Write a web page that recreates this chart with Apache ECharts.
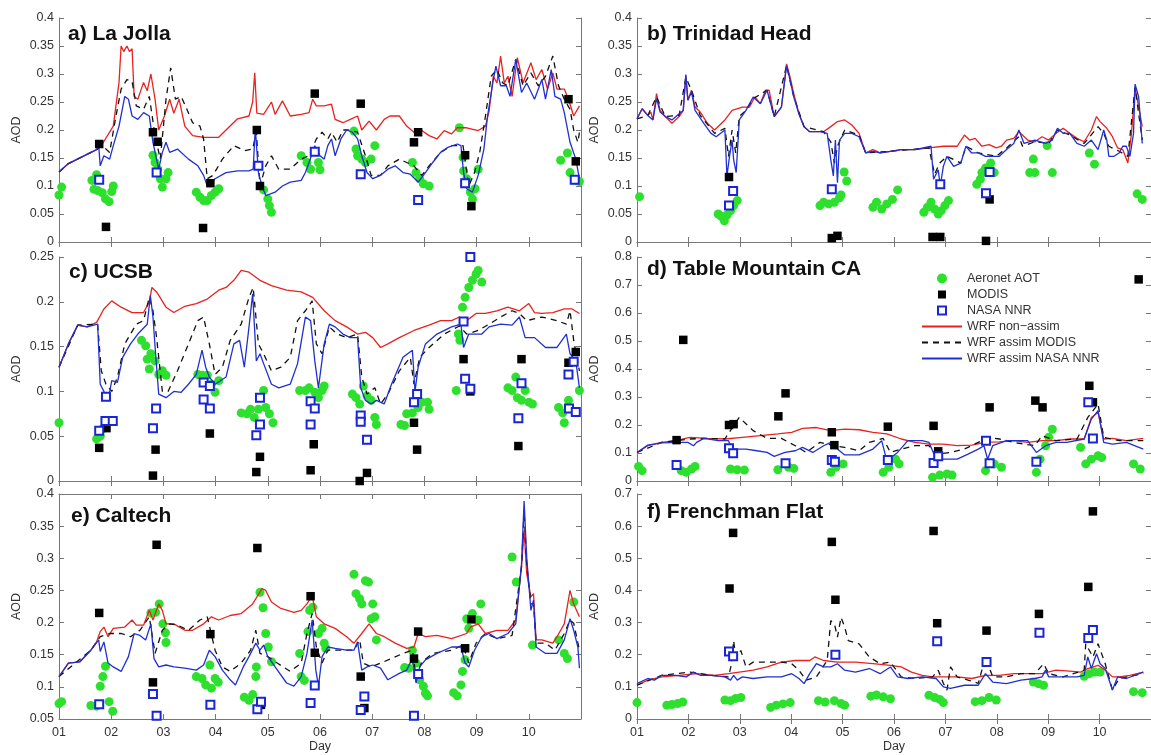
<!DOCTYPE html>
<html>
<head>
<meta charset="utf-8">
<title>AOD comparison</title>
<script src="https://cdn.jsdelivr.net/npm/echarts@6/dist/echarts.min.js"></script>
<style>
  html, body { margin: 0; padding: 0; background: #fff; }
  #chart { width: 1151px; height: 755px; }
</style>
</head>
<body>
<div id="chart"></div>
<script>
// values, every point is [day, AOD]

// a) La Jolla
const aAero = [[1.00,0.084],[1.05,0.098],[1.63,0.11],[1.72,0.12],[1.67,0.094],[1.74,0.092],[1.83,0.088],[1.89,0.077],[1.96,0.072],[2.01,0.09],[2.04,0.1],
  [2.80,0.155],[2.84,0.142],[2.89,0.13],[2.94,0.113],[2.98,0.098],[3.05,0.113],[3.09,0.124],
  [3.63,0.089],[3.70,0.08],[3.77,0.074],[3.84,0.074],[3.92,0.083],[3.99,0.089],[4.06,0.095],
  [4.92,0.093],[5.00,0.077],[5.03,0.065],[5.07,0.053],
  [5.64,0.154],[5.75,0.142],[5.82,0.13],[5.97,0.142],[6.00,0.129],
  [6.65,0.198],[6.69,0.166],[6.72,0.154],[6.80,0.148],[6.87,0.142],[6.98,0.148],[7.05,0.172],
  [7.77,0.142],[7.84,0.124],[7.91,0.113],[7.98,0.104],[8.09,0.1],
  [8.67,0.204],[8.74,0.151],[8.75,0.127],[8.81,0.113],[8.88,0.089],[8.92,0.077],[8.97,0.095],[9.03,0.13],
  [10.61,0.146],[10.74,0.159],[10.79,0.124],[10.90,0.11],[10.97,0.108]]
const aModis = [[1.77,0.175],[1.90,0.027],[2.80,0.196],[2.89,0.179],[3.76,0.025],[3.90,0.105],[4.79,0.2],[4.85,0.1],[5.90,0.265],[6.78,0.247],[7.80,0.178],[7.88,0.196],[8.78,0.155],[8.90,0.064],[10.76,0.255],[10.90,0.144]]
const aNnr = [[1.77,0.111],[2.87,0.124],[4.82,0.136],[5.90,0.161],[6.78,0.121],[7.88,0.075],[8.78,0.105],[10.88,0.111]]
const aRed = [[1.00,0.125],[1.18,0.14],[1.72,0.165],[1.83,0.175],[2.04,0.207],[2.15,0.285],[2.19,0.35],[2.24,0.34],[2.30,0.35],[2.35,0.34],[2.40,0.345],[2.44,0.26],[2.51,0.255],[2.62,0.285],[2.69,0.27],[2.76,0.30],[2.84,0.255],[2.91,0.2],[3.02,0.225],[3.12,0.255],[3.20,0.23],[3.30,0.255],[3.41,0.207],[3.56,0.19],[3.77,0.187],[4.06,0.187],[4.20,0.2],[4.42,0.22],[4.64,0.225],[4.71,0.25],[4.75,0.302],[4.79,0.23],[4.92,0.228],[5.07,0.25],[5.14,0.228],[5.28,0.252],[5.43,0.225],[5.64,0.228],[5.79,0.231],[5.86,0.255],[5.93,0.243],[6.08,0.243],[6.22,0.246],[6.29,0.219],[6.44,0.213],[6.58,0.219],[6.72,0.225],[6.80,0.2],[6.94,0.216],[7.08,0.2],[7.23,0.219],[7.34,0.225],[7.52,0.225],[7.66,0.207],[7.80,0.196],[7.95,0.199],[8.09,0.19],[8.24,0.184],[8.38,0.199],[8.52,0.193],[8.63,0.204],[8.81,0.204],[9.03,0.199],[9.17,0.207],[9.24,0.234],[9.32,0.296],[9.39,0.284],[9.46,0.332],[9.53,0.284],[9.60,0.296],[9.68,0.26],[9.78,0.329],[9.89,0.284],[10.04,0.32],[10.14,0.29],[10.25,0.308],[10.36,0.273],[10.46,0.302],[10.54,0.273],[10.68,0.273],[10.76,0.255],[10.86,0.225],[10.97,0.243]]
const aDash = [[1.00,0.125],[1.18,0.14],[1.72,0.165],[1.83,0.172],[1.97,0.16],[2.08,0.219],[2.19,0.273],[2.30,0.29],[2.40,0.287],[2.48,0.243],[2.62,0.237],[2.73,0.26],[2.84,0.19],[2.94,0.148],[3.05,0.255],[3.14,0.311],[3.23,0.255],[3.34,0.26],[3.45,0.237],[3.56,0.213],[3.70,0.207],[3.77,0.184],[3.84,0.113],[3.95,0.119],[4.13,0.148],[4.35,0.172],[4.56,0.163],[4.71,0.166],[4.78,0.196],[4.85,0.1],[4.96,0.136],[5.07,0.154],[5.21,0.13],[5.43,0.13],[5.64,0.148],[5.79,0.154],[5.93,0.184],[6.04,0.196],[6.15,0.184],[6.22,0.196],[6.33,0.178],[6.44,0.2],[6.54,0.2],[6.72,0.196],[6.87,0.154],[6.98,0.119],[7.16,0.119],[7.30,0.136],[7.52,0.148],[7.66,0.142],[7.80,0.136],[7.95,0.119],[8.09,0.136],[8.31,0.16],[8.52,0.172],[8.74,0.172],[8.85,0.1],[8.96,0.124],[9.06,0.16],[9.17,0.225],[9.28,0.296],[9.39,0.308],[9.50,0.284],[9.60,0.279],[9.75,0.326],[9.89,0.279],[10.04,0.302],[10.18,0.279],[10.32,0.296],[10.46,0.332],[10.57,0.279],[10.68,0.255],[10.79,0.237],[10.86,0.2],[10.94,0.178],[10.97,0.196]]
const aBlue = [[1.00,0.125],[1.18,0.14],[1.72,0.165],[1.76,0.172],[1.79,0.136],[1.86,0.154],[1.97,0.148],[2.04,0.172],[2.15,0.207],[2.26,0.26],[2.33,0.255],[2.40,0.225],[2.51,0.219],[2.62,0.231],[2.73,0.225],[2.80,0.178],[2.91,0.13],[2.98,0.16],[3.05,0.178],[3.12,0.16],[3.27,0.166],[3.48,0.148],[3.66,0.136],[3.77,0.119],[3.84,0.1],[3.99,0.113],[4.20,0.124],[4.42,0.127],[4.64,0.127],[4.72,0.13],[4.76,0.204],[4.82,0.124],[4.89,0.1],[4.96,0.083],[5.14,0.089],[5.28,0.1],[5.43,0.107],[5.64,0.11],[5.72,0.124],[5.79,0.142],[5.90,0.172],[6.00,0.154],[6.08,0.148],[6.15,0.172],[6.22,0.184],[6.29,0.154],[6.40,0.184],[6.51,0.2],[6.62,0.196],[6.72,0.184],[6.80,0.154],[6.90,0.124],[7.01,0.113],[7.16,0.119],[7.30,0.13],[7.44,0.136],[7.59,0.124],[7.73,0.121],[7.88,0.107],[8.02,0.124],[8.16,0.142],[8.31,0.16],[8.45,0.169],[8.63,0.175],[8.70,0.172],[8.75,0.124],[8.81,0.095],[8.92,0.089],[9.03,0.119],[9.14,0.166],[9.21,0.225],[9.32,0.29],[9.37,0.314],[9.46,0.279],[9.57,0.279],[9.64,0.26],[9.75,0.326],[9.86,0.267],[9.96,0.284],[10.11,0.255],[10.25,0.29],[10.32,0.255],[10.43,0.308],[10.50,0.26],[10.61,0.255],[10.68,0.231],[10.79,0.178],[10.90,0.148],[10.97,0.113]]

// b) Trinidad Head
const bAero = [[1.05,0.081],[2.58,0.05],[2.64,0.046],[2.70,0.038],[2.75,0.048],[2.82,0.056],[2.88,0.065],[2.95,0.074],[4.56,0.065],[4.63,0.071],[4.73,0.068],[4.84,0.071],[4.94,0.079],[4.97,0.084],[5.03,0.125],[5.08,0.109],[5.59,0.062],[5.66,0.071],[5.76,0.059],[5.86,0.068],[5.97,0.076],[6.07,0.093],[6.58,0.053],[6.65,0.062],[6.72,0.071],[6.79,0.059],[6.86,0.05],[6.92,0.056],[6.99,0.065],[7.06,0.074],[7.61,0.103],[7.68,0.112],[7.71,0.124],[7.78,0.132],[7.88,0.141],[7.95,0.124],[8.64,0.124],[8.71,0.148],[8.74,0.124],[9.08,0.124],[8.98,0.172],[9.80,0.159],[9.90,0.139],[10.73,0.086],[10.83,0.076]]
const bModis = [[2.79,0.116],[4.79,0.007],[4.90,0.011],[6.75,0.009],[6.90,0.009],[7.79,0.002],[7.86,0.076]]
const bNnr = [[2.79,0.065],[2.87,0.091],[4.79,0.094],[6.90,0.103],[7.79,0.087],[7.86,0.125]]
const bRed = [[1.00,0.22],[1.10,0.238],[1.21,0.226],[1.27,0.232],[1.31,0.218],[1.38,0.265],[1.45,0.235],[1.55,0.224],[1.68,0.212],[1.82,0.224],[1.90,0.235],[1.95,0.297],[1.99,0.253],[2.06,0.271],[2.13,0.241],[2.23,0.232],[2.37,0.212],[2.51,0.2],[2.71,0.218],[2.85,0.235],[3.05,0.241],[3.19,0.241],[3.29,0.259],[3.40,0.247],[3.50,0.271],[3.57,0.271],[3.67,0.224],[3.81,0.241],[3.91,0.318],[3.98,0.294],[4.05,0.265],[4.15,0.229],[4.25,0.206],[4.36,0.197],[4.49,0.197],[4.63,0.197],[4.77,0.206],[4.90,0.215],[5.04,0.218],[5.18,0.209],[5.32,0.194],[5.45,0.159],[5.59,0.165],[5.73,0.159],[5.93,0.162],[6.14,0.165],[6.41,0.165],[6.68,0.168],[6.96,0.171],[7.23,0.171],[7.37,0.191],[7.47,0.182],[7.58,0.185],[7.71,0.171],[7.85,0.174],[7.99,0.168],[8.09,0.171],[8.19,0.182],[8.33,0.185],[8.43,0.197],[8.60,0.182],[8.74,0.179],[8.88,0.188],[9.01,0.182],[9.15,0.194],[9.29,0.203],[9.42,0.194],[9.56,0.185],[9.70,0.179],[9.84,0.2],[9.94,0.224],[10.01,0.215],[10.14,0.203],[10.25,0.188],[10.35,0.168],[10.45,0.165],[10.55,0.141],[10.62,0.194],[10.69,0.276],[10.76,0.241],[10.83,0.206]]
const bDash = [[1.00,0.22],[1.21,0.226],[1.38,0.259],[1.55,0.224],[1.82,0.226],[1.95,0.294],[2.06,0.271],[2.23,0.226],[2.51,0.194],[2.71,0.203],[2.78,0.153],[2.85,0.2],[2.92,0.159],[2.99,0.224],[3.12,0.235],[3.26,0.256],[3.53,0.271],[3.67,0.224],[3.91,0.315],[4.05,0.259],[4.25,0.206],[4.63,0.197],[4.77,0.179],[4.84,0.141],[4.90,0.171],[5.04,0.2],[5.32,0.191],[5.45,0.159],[5.93,0.162],[6.68,0.168],[6.79,0.121],[6.89,0.141],[7.03,0.153],[7.30,0.141],[7.40,0.171],[7.64,0.159],[7.99,0.153],[8.19,0.168],[8.43,0.188],[8.50,0.171],[8.74,0.179],[9.01,0.176],[9.18,0.2],[9.42,0.191],[9.70,0.176],[9.97,0.206],[10.08,0.194],[10.18,0.171],[10.38,0.162],[10.55,0.153],[10.69,0.276],[10.83,0.182]]
const bBlue = [[1.00,0.22],[1.10,0.238],[1.21,0.226],[1.31,0.218],[1.38,0.256],[1.45,0.232],[1.55,0.224],[1.68,0.218],[1.82,0.229],[1.90,0.235],[1.95,0.299],[1.99,0.253],[2.06,0.268],[2.13,0.235],[2.30,0.212],[2.44,0.194],[2.54,0.188],[2.71,0.2],[2.75,0.118],[2.80,0.153],[2.85,0.182],[2.88,0.147],[2.93,0.124],[2.99,0.218],[3.12,0.235],[3.26,0.259],[3.40,0.247],[3.53,0.271],[3.67,0.224],[3.81,0.241],[3.91,0.315],[3.98,0.288],[4.05,0.259],[4.15,0.229],[4.25,0.206],[4.36,0.197],[4.56,0.197],[4.70,0.194],[4.77,0.147],[4.82,0.118],[4.86,0.182],[4.90,0.106],[4.94,0.182],[5.04,0.194],[5.18,0.194],[5.32,0.188],[5.45,0.159],[5.59,0.162],[5.73,0.159],[5.93,0.162],[6.14,0.165],[6.41,0.165],[6.72,0.171],[6.77,0.112],[6.86,0.129],[6.90,0.1],[6.96,0.135],[7.03,0.153],[7.16,0.135],[7.30,0.141],[7.40,0.171],[7.51,0.159],[7.64,0.159],[7.78,0.153],[7.92,0.153],[8.05,0.153],[8.19,0.165],[8.33,0.176],[8.43,0.2],[8.53,0.176],[8.74,0.182],[8.95,0.176],[9.08,0.182],[9.18,0.203],[9.29,0.194],[9.42,0.194],[9.56,0.176],[9.70,0.171],[9.84,0.182],[9.97,0.165],[10.08,0.2],[10.14,0.182],[10.18,0.153],[10.28,0.153],[10.38,0.159],[10.45,0.171],[10.52,0.171],[10.59,0.153],[10.66,0.194],[10.69,0.282],[10.76,0.259],[10.83,0.176]]

// c) UCSB
const cAero = [[1.00,0.065],[1.72,0.047],[1.79,0.05],[1.83,0.058],[2.58,0.157],[2.66,0.151],[2.69,0.136],[2.73,0.125],[2.76,0.142],[2.84,0.134],[2.91,0.119],[2.98,0.123],[3.05,0.118],[3.66,0.119],[3.74,0.118],[3.84,0.118],[3.92,0.108],[3.99,0.099],[4.06,0.112],[4.49,0.076],[4.60,0.075],[4.67,0.08],[4.74,0.071],[4.82,0.08],[4.92,0.101],[4.96,0.082],[5.03,0.075],[5.10,0.065],[5.61,0.101],[5.72,0.101],[5.79,0.104],[5.90,0.099],[5.97,0.093],[6.04,0.101],[6.08,0.106],[6.62,0.097],[6.69,0.093],[6.76,0.086],[6.83,0.106],[6.90,0.095],[6.98,0.09],[7.05,0.071],[7.08,0.063],[7.55,0.063],[7.62,0.062],[7.66,0.075],[7.77,0.076],[7.88,0.082],[7.95,0.088],[8.06,0.088],[8.09,0.08],[8.61,0.101],[8.65,0.164],[8.68,0.157],[8.73,0.194],[8.78,0.205],[8.85,0.216],[8.92,0.224],[8.99,0.231],[9.03,0.235],[9.10,0.222],[9.60,0.104],[9.68,0.101],[9.75,0.116],[9.78,0.093],[9.86,0.09],[9.93,0.101],[10.00,0.088],[10.07,0.086],[10.57,0.082],[10.65,0.076],[10.68,0.065],[10.76,0.09],[10.97,0.101]]
const cModis = [[1.77,0.037],[1.91,0.059],[2.80,0.006],[2.85,0.035],[3.89,0.053],[4.78,0.01],[4.85,0.027],[5.82,0.012],[5.88,0.041],[6.76,0.0],[6.90,0.009],[7.80,0.065],[7.86,0.035],[8.75,0.136],[8.88,0.1],[9.86,0.136],[9.80,0.039],[10.76,0.132],[10.90,0.144]]
const cNnr = [[1.77,0.056],[1.90,0.094],[1.89,0.067],[2.03,0.067],[2.80,0.059],[2.86,0.081],[3.77,0.11],[3.77,0.091],[3.89,0.106],[3.89,0.081],[4.78,0.051],[4.85,0.093],[4.85,0.063],[5.82,0.089],[5.82,0.063],[5.90,0.081],[6.78,0.073],[6.78,0.066],[6.90,0.046],[7.80,0.088],[7.86,0.097],[8.75,0.178],[8.78,0.114],[8.88,0.103],[8.88,0.25],[9.80,0.07],[9.86,0.109],[10.76,0.119],[10.77,0.081],[10.86,0.133],[10.90,0.077]]
const cRed = [[1.00,0.127],[1.18,0.153],[1.36,0.174],[1.54,0.172],[1.72,0.177],[1.86,0.192],[2.01,0.201],[2.19,0.194],[2.40,0.188],[2.62,0.188],[2.73,0.2],[2.78,0.216],[2.87,0.211],[3.05,0.194],[3.20,0.188],[3.41,0.195],[3.63,0.198],[3.84,0.203],[4.06,0.213],[4.20,0.216],[4.35,0.224],[4.49,0.235],[4.64,0.233],[4.85,0.224],[5.07,0.218],[5.36,0.213],[5.64,0.211],[5.86,0.205],[6.08,0.19],[6.29,0.179],[6.51,0.172],[6.72,0.164],[6.87,0.166],[7.01,0.16],[7.16,0.149],[7.30,0.153],[7.52,0.16],[7.80,0.168],[8.09,0.174],[8.31,0.179],[8.52,0.179],[8.67,0.183],[8.81,0.179],[8.99,0.187],[9.17,0.187],[9.39,0.19],[9.60,0.194],[9.82,0.19],[10.00,0.198],[10.11,0.188],[10.25,0.187],[10.46,0.188],[10.68,0.192],[10.83,0.192],[10.97,0.187]]
const cDash = [[1.00,0.127],[1.36,0.174],[1.74,0.175],[1.81,0.123],[1.90,0.108],[2.01,0.1],[2.12,0.116],[2.26,0.153],[2.48,0.175],[2.62,0.179],[2.73,0.205],[2.80,0.19],[2.87,0.16],[2.98,0.1],[3.09,0.1],[3.27,0.123],[3.48,0.153],[3.66,0.179],[3.77,0.183],[3.88,0.153],[3.99,0.119],[4.13,0.127],[4.28,0.157],[4.49,0.175],[4.64,0.205],[4.72,0.216],[4.82,0.153],[4.92,0.142],[5.07,0.123],[5.25,0.127],[5.43,0.138],[5.57,0.179],[5.72,0.19],[5.85,0.201],[5.93,0.153],[6.04,0.142],[6.18,0.172],[6.33,0.164],[6.51,0.16],[6.72,0.164],[6.80,0.116],[6.90,0.097],[7.05,0.104],[7.16,0.086],[7.30,0.097],[7.52,0.123],[7.73,0.138],[7.80,0.108],[7.91,0.138],[8.09,0.149],[8.38,0.164],[8.67,0.173],[8.81,0.164],[9.03,0.168],[9.24,0.175],[9.46,0.183],[9.68,0.19],[9.82,0.187],[9.96,0.179],[10.25,0.183],[10.54,0.179],[10.72,0.175],[10.79,0.19],[10.86,0.157],[10.97,0.123]]
const cBlue = [[1.00,0.127],[1.18,0.153],[1.36,0.174],[1.54,0.172],[1.74,0.175],[1.79,0.108],[1.86,0.1],[1.94,0.09],[2.01,0.112],[2.12,0.11],[2.22,0.138],[2.37,0.153],[2.51,0.164],[2.69,0.175],[2.75,0.207],[2.80,0.183],[2.85,0.142],[2.91,0.097],[3.05,0.093],[3.20,0.1],[3.34,0.099],[3.48,0.108],[3.63,0.119],[3.74,0.146],[3.81,0.127],[3.88,0.116],[3.99,0.108],[4.20,0.116],[4.35,0.153],[4.46,0.157],[4.55,0.127],[4.64,0.172],[4.71,0.209],[4.78,0.134],[4.85,0.142],[4.92,0.131],[5.07,0.108],[5.21,0.104],[5.43,0.108],[5.57,0.131],[5.72,0.183],[5.82,0.179],[5.90,0.134],[5.97,0.104],[6.08,0.153],[6.18,0.175],[6.29,0.172],[6.44,0.164],[6.58,0.16],[6.72,0.16],[6.78,0.104],[6.87,0.09],[6.98,0.086],[7.08,0.09],[7.23,0.086],[7.37,0.108],[7.59,0.138],[7.77,0.146],[7.82,0.1],[7.88,0.127],[8.02,0.153],[8.24,0.164],[8.52,0.172],[8.70,0.175],[8.75,0.149],[8.85,0.164],[9.10,0.164],[9.24,0.172],[9.46,0.175],[9.68,0.174],[9.82,0.183],[9.93,0.16],[10.11,0.16],[10.32,0.149],[10.54,0.149],[10.72,0.164],[10.79,0.142],[10.90,0.134],[10.97,0.104]]

// d) Table Mountain CA
const dAero = [[1.03,0.052],[1.10,0.037],[1.86,0.037],[1.96,0.031],[2.06,0.043],[2.13,0.052],[2.82,0.043],[2.95,0.04],[3.09,0.039],[3.74,0.04],[3.95,0.049],[4.05,0.045],[4.77,0.031],[4.87,0.049],[5.01,0.061],[5.79,0.031],[5.90,0.049],[6.03,0.078],[6.10,0.061],[6.75,0.013],[6.89,0.021],[7.03,0.025],[7.13,0.021],[7.78,0.037],[7.95,0.061],[8.09,0.049],[8.77,0.031],[8.84,0.078],[8.95,0.126],[9.01,0.156],[9.08,0.185],[9.63,0.12],[9.73,0.061],[9.84,0.078],[9.97,0.09],[10.04,0.084],[10.66,0.061],[10.79,0.043]]
const dModis = [[1.77,0.146],[1.90,0.504],[2.79,0.2],[2.88,0.203],[3.75,0.231],[3.89,0.313],[4.79,0.174],[4.84,0.128],[5.88,0.194],[6.77,0.197],[6.86,0.106],[7.86,0.263],[8.75,0.287],[8.89,0.263],[9.80,0.34],[9.87,0.281],[10.76,0.72]]
const dNnr = [[1.77,0.057],[2.79,0.117],[2.87,0.099],[3.89,0.063],[4.79,0.075],[4.85,0.069],[5.88,0.075],[6.77,0.064],[6.86,0.088],[7.79,0.144],[7.86,0.063],[8.77,0.069],[9.78,0.281],[9.87,0.152]]
const dRed = [[1.00,0.102],[1.21,0.126],[1.48,0.138],[1.75,0.144],[2.03,0.156],[2.37,0.152],[2.71,0.15],[3.05,0.156],[3.40,0.162],[3.74,0.168],[4.01,0.174],[4.22,0.188],[4.49,0.191],[4.77,0.18],[5.04,0.185],[5.32,0.183],[5.59,0.174],[5.86,0.168],[6.14,0.15],[6.41,0.138],[6.68,0.132],[6.96,0.132],[7.23,0.126],[7.51,0.128],[7.78,0.138],[8.05,0.14],[8.33,0.144],[8.60,0.138],[8.88,0.144],[9.15,0.144],[9.42,0.15],[9.70,0.15],[9.84,0.227],[9.97,0.245],[10.08,0.15],[10.25,0.152],[10.52,0.144],[10.85,0.152]]
const dDash = [[1.00,0.102],[1.48,0.138],[2.03,0.15],[2.30,0.152],[2.71,0.15],[2.92,0.209],[2.99,0.227],[3.26,0.18],[3.53,0.152],[3.81,0.152],[4.08,0.126],[4.29,0.102],[4.56,0.138],[4.84,0.126],[5.04,0.12],[5.32,0.108],[5.52,0.138],[5.79,0.152],[5.93,0.102],[6.14,0.114],[6.41,0.126],[6.68,0.126],[6.82,0.096],[7.10,0.102],[7.37,0.114],[7.64,0.138],[7.85,0.156],[8.05,0.15],[8.33,0.138],[8.74,0.126],[8.88,0.162],[9.15,0.144],[9.56,0.15],[9.77,0.227],[9.97,0.275],[10.08,0.156],[10.38,0.144],[10.85,0.144]]
const dBlue = [[1.00,0.102],[1.21,0.128],[1.48,0.136],[1.82,0.138],[1.99,0.138],[2.10,0.126],[2.16,0.138],[2.30,0.152],[2.58,0.144],[2.78,0.144],[2.85,0.114],[2.99,0.114],[3.12,0.114],[3.33,0.108],[3.53,0.102],[3.67,0.088],[3.88,0.102],[4.08,0.108],[4.22,0.12],[4.42,0.102],[4.63,0.126],[4.77,0.138],[4.90,0.114],[5.04,0.093],[5.32,0.093],[5.59,0.114],[5.76,0.144],[5.86,0.073],[6.07,0.102],[6.27,0.144],[6.55,0.144],[6.68,0.138],[6.82,0.078],[6.96,0.078],[7.23,0.078],[7.44,0.096],[7.64,0.114],[7.75,0.126],[7.82,0.078],[7.92,0.126],[8.19,0.144],[8.60,0.144],[8.77,0.102],[8.95,0.126],[9.15,0.138],[9.36,0.138],[9.70,0.15],[9.84,0.221],[9.97,0.251],[10.08,0.138],[10.25,0.132],[10.52,0.138],[10.85,0.114]]

// e) Caltech
const eAero = [[1.00,0.074],[1.05,0.077],[1.61,0.071],[1.72,0.07],[1.79,0.101],[1.84,0.116],[1.89,0.132],[1.96,0.077],[2.03,0.062],[2.76,0.215],[2.85,0.216],[2.92,0.229],[2.99,0.198],[3.04,0.184],[3.05,0.169],[3.63,0.116],[3.74,0.113],[3.81,0.103],[3.89,0.134],[3.92,0.098],[3.99,0.113],[4.05,0.107],[4.55,0.084],[4.64,0.079],[4.71,0.088],[4.77,0.116],[4.78,0.131],[4.85,0.247],[4.91,0.223],[4.96,0.183],[5.01,0.162],[5.07,0.139],[5.61,0.152],[5.64,0.116],[5.70,0.11],[5.77,0.186],[5.80,0.219],[5.86,0.224],[5.97,0.183],[6.04,0.191],[6.08,0.168],[6.11,0.16],[6.65,0.275],[6.69,0.245],[6.76,0.237],[6.80,0.229],[6.87,0.265],[6.93,0.263],[6.98,0.206],[7.01,0.229],[7.05,0.209],[7.08,0.173],[7.62,0.13],[7.70,0.129],[7.77,0.157],[7.84,0.137],[7.91,0.111],[7.98,0.101],[8.02,0.09],[8.06,0.086],[8.56,0.091],[8.63,0.086],[8.70,0.103],[8.73,0.124],[8.78,0.142],[8.81,0.206],[8.85,0.191],[8.92,0.214],[9.03,0.204],[9.08,0.229],[9.68,0.302],[9.76,0.263],[10.07,0.165],[10.57,0.173],[10.68,0.152],[10.74,0.144],[10.86,0.232]]
const eModis = [[1.77,0.215],[2.80,0.107],[2.87,0.321],[3.90,0.182],[4.80,0.316],[4.87,0.072],[5.82,0.241],[5.90,0.153],[6.78,0.116],[6.85,0.067],[7.80,0.144],[7.88,0.186],[8.78,0.16],[8.90,0.205]]
const eNnr = [[1.77,0.073],[2.80,0.089],[2.87,0.055],[3.90,0.072],[4.80,0.065],[4.87,0.077],[5.82,0.075],[5.90,0.102],[6.78,0.064],[6.85,0.085],[7.80,0.055],[7.88,0.12]]
const eRed = [[1.00,0.116],[1.18,0.137],[1.40,0.139],[1.61,0.157],[1.72,0.17],[1.79,0.186],[1.86,0.193],[1.94,0.178],[2.04,0.191],[2.26,0.193],[2.40,0.204],[2.48,0.196],[2.62,0.196],[2.73,0.219],[2.80,0.204],[2.91,0.229],[2.98,0.219],[3.05,0.198],[3.20,0.198],[3.41,0.188],[3.56,0.188],[3.77,0.198],[3.92,0.209],[4.06,0.204],[4.28,0.211],[4.49,0.214],[4.71,0.229],[4.89,0.253],[4.96,0.25],[5.07,0.232],[5.25,0.222],[5.50,0.216],[5.64,0.219],[5.75,0.229],[5.85,0.242],[5.93,0.209],[6.08,0.198],[6.29,0.191],[6.51,0.178],[6.65,0.168],[6.80,0.183],[6.94,0.198],[7.08,0.183],[7.23,0.178],[7.44,0.168],[7.66,0.16],[7.80,0.162],[7.88,0.183],[8.02,0.178],[8.24,0.18],[8.52,0.175],[8.81,0.183],[8.88,0.193],[9.03,0.198],[9.17,0.183],[9.39,0.188],[9.60,0.188],[9.75,0.204],[9.86,0.286],[9.91,0.343],[9.96,0.276],[10.04,0.24],[10.09,0.245],[10.14,0.173],[10.25,0.173],[10.46,0.168],[10.54,0.178],[10.68,0.198],[10.79,0.25],[10.86,0.229],[10.97,0.209]]
const eDash = [[1.00,0.116],[1.61,0.157],[1.79,0.178],[1.97,0.183],[2.19,0.183],[2.37,0.178],[2.55,0.188],[2.73,0.209],[2.84,0.152],[2.98,0.188],[3.12,0.198],[3.27,0.196],[3.48,0.188],[3.70,0.204],[3.84,0.209],[3.99,0.157],[4.13,0.131],[4.28,0.124],[4.49,0.137],[4.67,0.157],[4.77,0.188],[4.85,0.152],[5.00,0.147],[5.18,0.137],[5.43,0.124],[5.64,0.137],[5.75,0.183],[5.85,0.214],[5.93,0.162],[6.04,0.137],[6.15,0.157],[6.36,0.157],[6.65,0.157],[6.76,0.173],[6.83,0.137],[6.98,0.131],[7.16,0.137],[7.37,0.144],[7.59,0.152],[7.77,0.157],[7.84,0.116],[7.95,0.139],[8.16,0.152],[8.52,0.157],[8.74,0.165],[8.85,0.137],[8.99,0.168],[9.17,0.183],[9.39,0.175],[9.68,0.18],[9.86,0.286],[9.91,0.374],[9.96,0.291],[10.04,0.229],[10.09,0.229],[10.14,0.168],[10.32,0.168],[10.50,0.157],[10.68,0.183],[10.79,0.204],[10.86,0.199],[10.97,0.157]]
const eBlue = [[1.00,0.116],[1.18,0.137],[1.40,0.139],[1.61,0.157],[1.76,0.173],[1.79,0.155],[1.86,0.17],[1.94,0.137],[2.04,0.131],[2.19,0.124],[2.33,0.147],[2.44,0.183],[2.55,0.18],[2.66,0.173],[2.76,0.198],[2.82,0.144],[2.91,0.131],[3.05,0.134],[3.20,0.131],[3.41,0.129],[3.63,0.126],[3.77,0.134],[3.88,0.157],[3.99,0.147],[4.13,0.126],[4.28,0.111],[4.38,0.103],[4.53,0.131],[4.64,0.147],[4.77,0.168],[4.85,0.157],[4.92,0.165],[5.00,0.147],[5.14,0.131],[5.36,0.106],[5.50,0.101],[5.64,0.116],[5.75,0.152],[5.85,0.204],[5.92,0.126],[5.97,0.101],[6.04,0.147],[6.15,0.162],[6.29,0.16],[6.51,0.157],[6.65,0.157],[6.72,0.17],[6.80,0.126],[6.90,0.131],[7.01,0.134],[7.16,0.129],[7.30,0.111],[7.52,0.121],[7.66,0.126],[7.77,0.144],[7.84,0.106],[7.91,0.131],[8.02,0.142],[8.24,0.152],[8.52,0.162],[8.70,0.162],[8.78,0.137],[8.85,0.131],[8.96,0.157],[9.10,0.178],[9.24,0.183],[9.39,0.175],[9.60,0.183],[9.75,0.198],[9.86,0.291],[9.91,0.389],[9.96,0.301],[10.04,0.219],[10.09,0.235],[10.14,0.162],[10.32,0.152],[10.54,0.152],[10.68,0.173],[10.79,0.206],[10.86,0.188],[10.94,0.162],[10.97,0.129]]

// f) Frenchman Flat
const fAero = [[1.00,0.051],[1.58,0.043],[1.68,0.045],[1.79,0.048],[1.89,0.053],[2.71,0.059],[2.82,0.057],[2.92,0.064],[3.02,0.067],[3.60,0.036],[3.71,0.043],[3.84,0.047],[3.98,0.051],[4.53,0.057],[4.66,0.053],[4.84,0.057],[4.97,0.048],[5.04,0.043],[5.55,0.071],[5.66,0.075],[5.79,0.069],[5.93,0.063],[6.68,0.074],[6.79,0.067],[6.89,0.061],[6.96,0.051],[7.58,0.054],[7.71,0.057],[7.85,0.067],[7.99,0.059],[8.71,0.115],[8.81,0.11],[8.91,0.105],[9.70,0.133],[9.80,0.141],[9.90,0.146],[10.01,0.146],[10.66,0.085],[10.83,0.082]]
const fModis = [[2.80,0.406],[2.87,0.579],[4.79,0.551],[4.86,0.371],[6.77,0.585],[6.84,0.298],[7.80,0.275],[8.82,0.327],[9.78,0.411],[9.87,0.646]]
const fNnr = [[2.79,0.21],[2.87,0.195],[4.86,0.2],[6.84,0.242],[7.80,0.177],[8.83,0.268],[9.78,0.252],[9.87,0.277]]
const fRed = [[1.00,0.105],[1.21,0.121],[1.48,0.131],[1.82,0.136],[2.16,0.141],[2.51,0.136],[2.78,0.141],[2.99,0.146],[3.26,0.152],[3.53,0.162],[3.81,0.177],[4.08,0.182],[4.36,0.182],[4.46,0.193],[4.63,0.182],[4.90,0.177],[5.25,0.177],[5.59,0.172],[5.93,0.167],[6.14,0.162],[6.34,0.146],[6.55,0.136],[6.75,0.131],[6.96,0.131],[7.23,0.131],[7.51,0.126],[7.78,0.136],[8.05,0.136],[8.33,0.141],[8.60,0.141],[8.88,0.141],[9.15,0.152],[9.42,0.149],[9.63,0.146],[9.77,0.157],[9.97,0.167],[10.11,0.152],[10.25,0.131],[10.38,0.131],[10.59,0.136],[10.85,0.146]]
const fDash = [[1.00,0.105],[1.48,0.136],[2.03,0.146],[2.44,0.136],[2.78,0.131],[2.84,0.172],[2.88,0.244],[2.92,0.193],[3.02,0.213],[3.12,0.162],[3.26,0.177],[3.53,0.177],[3.81,0.177],[4.01,0.172],[4.15,0.152],[4.29,0.121],[4.49,0.131],[4.70,0.182],[4.77,0.306],[4.84,0.296],[4.90,0.255],[4.97,0.316],[5.04,0.286],[5.11,0.244],[5.32,0.234],[5.52,0.193],[5.73,0.172],[5.93,0.177],[6.14,0.131],[6.41,0.126],[6.75,0.131],[6.86,0.152],[6.96,0.111],[7.03,0.09],[7.10,0.162],[7.23,0.131],[7.44,0.121],[7.64,0.111],[7.78,0.193],[7.92,0.131],[8.19,0.131],[8.47,0.141],[8.74,0.141],[8.91,0.172],[9.01,0.141],[9.29,0.131],[9.70,0.152],[9.73,0.234],[9.87,0.193],[9.97,0.234],[10.11,0.172],[10.25,0.09],[10.38,0.126],[10.85,0.141]]
const fBlue = [[1.00,0.11],[1.21,0.126],[1.34,0.121],[1.48,0.136],[1.75,0.136],[1.96,0.131],[2.10,0.146],[2.23,0.136],[2.44,0.136],[2.71,0.131],[2.82,0.121],[2.88,0.136],[2.95,0.121],[3.05,0.131],[3.26,0.126],[3.53,0.131],[3.81,0.131],[4.01,0.141],[4.15,0.126],[4.25,0.11],[4.36,0.141],[4.49,0.172],[4.63,0.162],[4.77,0.162],[4.90,0.172],[5.04,0.152],[5.25,0.146],[5.52,0.157],[5.73,0.141],[5.93,0.162],[6.07,0.131],[6.27,0.126],[6.55,0.131],[6.82,0.126],[6.96,0.1],[7.10,0.095],[7.37,0.105],[7.64,0.105],[7.78,0.141],[7.92,0.115],[8.19,0.11],[8.47,0.121],[8.74,0.126],[8.88,0.131],[8.95,0.152],[9.01,0.131],[9.29,0.131],[9.56,0.131],[9.70,0.136],[9.77,0.193],[9.84,0.157],[9.94,0.203],[10.01,0.172],[10.11,0.157],[10.25,0.09],[10.35,0.131],[10.52,0.126],[10.85,0.146]]

// panel titles and y ranges
const titles = ['a) La Jolla', 'b) Trinidad Head', 'c) UCSB', 'd) Table Mountain CA', 'e) Caltech', 'f) Frenchman Flat']
const yMin = [0, 0, 0, 0, 0.05, 0]
const yMax = [0.4, 0.4, 0.25, 0.8, 0.4, 0.7]
const yStep = [0.05, 0.05, 0.05, 0.1, 0.05, 0.1]
const dayTicks = ['01', '02', '03', '04', '05', '06', '07', '08', '09', '10']

const aero = [aAero, bAero, cAero, dAero, eAero, fAero]
const modis = [aModis, bModis, cModis, dModis, eModis, fModis]
const nnr = [aNnr, bNnr, cNnr, dNnr, eNnr, fNnr]
const red = [aRed, bRed, cRed, dRed, eRed, fRed]
const dash = [aDash, bDash, cDash, dDash, eDash, fDash]
const blue = [aBlue, bBlue, cBlue, dBlue, eBlue, fBlue]

// panel boxes in pixels (right column runs a bit past the window edge, like the source)
const boxes = [
  {left: 59, top: 18, height: 224},
  {left: 637, top: 18, height: 224},
  {left: 59, top: 257, height: 224},
  {left: 637, top: 257, height: 224},
  {left: 59, top: 494, height: 225},
  {left: 637, top: 494, height: 225}
]
const titlePos = [[68, 24], [647, 24], [69, 262], [647, 259], [71, 506], [647, 502]]

const frame = '#777'
const font = 'Liberation Sans, Arial, sans-serif'
const nnrBlue = '#1a26d6'
// small square icon for the legend (the outer moves keep it from filling the whole box)
const squareIcon = 'path://M0,0M10,10M1,1L9,1L9,9L1,9Z'

const chart = echarts.init(document.getElementById('chart'))

const grid = [], xAxis = [], yAxis = [], series = [], title = []

boxes.forEach(function (b, i) {
  grid.push({left: b.left, top: b.top, width: 522, height: b.height})
  const bottomRow = i >= 4
  // bottom x axis
  xAxis.push({
    gridIndex: i, type: 'value', min: 1, max: 11, interval: 1,
    name: bottomRow ? 'Day' : '', nameLocation: 'middle', nameGap: 20,
    nameTextStyle: {fontSize: 12.5, color: '#333', fontFamily: font},
    axisLine: {lineStyle: {color: frame}},
    axisTick: {inside: true, length: 5, lineStyle: {color: frame}},
    axisLabel: {
      show: bottomRow, margin: 7, fontSize: 12.5, color: '#333', fontFamily: font, showMaxLabel: false,
      formatter: function (v) { return dayTicks[Math.round(v) - 1] || '' }
    },
    splitLine: {show: false}
  })
  // top x axis, ticks only
  xAxis.push({
    gridIndex: i, type: 'value', position: 'top', min: 1, max: 11, interval: 1,
    axisLine: {lineStyle: {color: frame}},
    axisTick: {inside: true, length: 5, lineStyle: {color: frame}},
    axisLabel: {show: false}, splitLine: {show: false}
  })
  yAxis.push({
    gridIndex: i, type: 'value', min: yMin[i], max: yMax[i], interval: yStep[i],
    name: 'AOD', nameLocation: 'middle', nameGap: 36,
    nameTextStyle: {fontSize: 12.5, color: '#333', fontFamily: font},
    axisLine: {show: true, lineStyle: {color: frame}},
    axisTick: {show: true, inside: true, length: 5, lineStyle: {color: frame}},
    axisLabel: {margin: 5, fontSize: 12.5, color: '#333', fontFamily: font},
    splitLine: {show: false}
  })
  yAxis.push({
    gridIndex: i, type: 'value', position: 'right', min: yMin[i], max: yMax[i], interval: yStep[i],
    axisLine: {show: true, lineStyle: {color: frame}},
    axisTick: {show: true, inside: true, length: 5, lineStyle: {color: frame}},
    axisLabel: {show: false}, splitLine: {show: false}
  })

  title.push({
    text: titles[i], left: titlePos[i][0], top: titlePos[i][1], padding: 0,
    textStyle: {fontSize: 21, fontWeight: 'bold', color: '#111', fontFamily: font}
  })

  const xi = i * 2, yi = i * 2
  series.push({
    name: 'Aeronet AOT', type: 'scatter', xAxisIndex: xi, yAxisIndex: yi,
    symbol: 'circle', symbolSize: 9, itemStyle: {color: '#2ee02e', opacity: 1},
    data: aero[i], z: 2
  })
  series.push({
    name: 'WRF non\u2212assim', type: 'line', xAxisIndex: xi, yAxisIndex: yi,
    symbol: 'none', lineStyle: {color: '#e8221e', width: 1.3}, itemStyle: {color: '#e8221e'},
    data: red[i], z: 3
  })
  series.push({
    name: 'WRF assim MODIS', type: 'line', xAxisIndex: xi, yAxisIndex: yi,
    symbol: 'none', lineStyle: {color: '#111', width: 1.3, type: [6, 5]}, itemStyle: {color: '#111'},
    data: dash[i], z: 3
  })
  series.push({
    name: 'WRF assim NASA NNR', type: 'line', xAxisIndex: xi, yAxisIndex: yi,
    symbol: 'none', lineStyle: {color: '#2030d0', width: 1.3}, itemStyle: {color: '#2030d0'},
    data: blue[i], z: 3
  })
  series.push({
    name: 'MODIS', type: 'scatter', xAxisIndex: xi, yAxisIndex: yi,
    symbol: 'rect', symbolSize: 8.5, itemStyle: {color: '#000', opacity: 1},
    data: modis[i], z: 4
  })
  series.push({
    name: 'NASA NNR', type: 'scatter', xAxisIndex: xi, yAxisIndex: yi,
    symbol: 'rect', symbolSize: 8, itemStyle: {color: '#fff', borderColor: nnrBlue, borderWidth: 2, opacity: 1},
    data: nnr[i], z: 5
  })
})

// lines in the legend get no marker in the middle
const noMarker = {opacity: 0}

chart.setOption({
  backgroundColor: '#fff',
  animation: false,
  title: title,
  legend: {
    orient: 'vertical', left: 916, top: 267, padding: 5,
    itemWidth: 40, itemHeight: 10, itemGap: 3,
    textStyle: {fontSize: 12.5, color: '#333', fontFamily: font},
    data: [
      {name: 'Aeronet AOT', icon: 'circle'},
      {name: 'MODIS', icon: squareIcon, itemStyle: {color: '#000'}},
      {name: 'NASA NNR', icon: squareIcon, itemStyle: {color: '#fff', borderColor: nnrBlue, borderWidth: 2}},
      {name: 'WRF non\u2212assim', itemStyle: noMarker},
      {name: 'WRF assim MODIS', itemStyle: noMarker},
      {name: 'WRF assim NASA NNR', itemStyle: noMarker}
    ]
  },
  grid: grid,
  xAxis: xAxis,
  yAxis: yAxis,
  series: series
})
</script>
</body>
</html>
